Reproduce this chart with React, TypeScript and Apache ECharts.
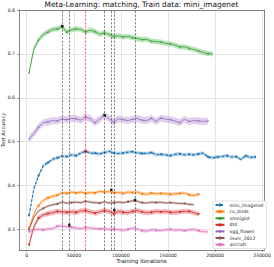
import { useEffect, useRef } from "react";
import * as echarts from "echarts";

const iterations = [
  2500, 7500, 12500, 17500, 22500, 27500, 32500, 37500, 42500, 47500,
  52500, 57500, 62500, 67500, 72500, 77500, 82500, 87500, 92500, 97500,
  102500, 107500, 112500, 117500, 122500, 127500, 132500, 137500, 142500, 147500,
  152500, 157500, 162500, 167500, 172500, 177500, 182500, 187500, 192500, 197500,
  202500, 207500, 212500, 217500, 222500, 227500, 232500, 237500, 242500,
];

const seriesNames = ["mini_imagenet", "cu_birds", "omniglot", "dtd", "vgg_flower", "ilsvrc_2012", "aircraft"];
const trainSet = "mini_imagenet";

const miniImagenet = [
  0.332, 0.392, 0.422, 0.445, 0.452, 0.46, 0.463, 0.467, 0.466, 0.47,
  0.468, 0.474, 0.478, 0.474, 0.474, 0.472, 0.475, 0.478, 0.474, 0.473,
  0.474, 0.476, 0.477, 0.474, 0.473, 0.473, 0.475, 0.47, 0.471, 0.47,
  0.468, 0.471, 0.472, 0.47, 0.471, 0.47, 0.472, 0.474, 0.465, 0.463,
  0.465, 0.466, 0.468, 0.465, 0.466, 0.459, 0.468, 0.464, 0.465,
];
const cuBirds = [
  0.303, 0.335, 0.354, 0.366, 0.372, 0.375, 0.378, 0.384, 0.382, 0.385,
  0.383, 0.385, 0.382, 0.384, 0.383, 0.387, 0.385, 0.386, 0.384, 0.384,
  0.382, 0.385, 0.384, 0.385, 0.381, 0.38, 0.383, 0.381, 0.382, 0.381,
  0.38, 0.381, 0.382, 0.383, 0.379, 0.377, 0.38,
];
const omniglot = [
  0.657, 0.711, 0.732, 0.744, 0.75, 0.756, 0.757, 0.762, 0.75, 0.755,
  0.757, 0.756, 0.75, 0.754, 0.751, 0.745, 0.748, 0.744, 0.74, 0.741,
  0.739, 0.74, 0.737, 0.735, 0.733, 0.733, 0.729, 0.728, 0.727, 0.724,
  0.723, 0.72, 0.716, 0.716, 0.713, 0.71, 0.707, 0.703, 0.701, 0.7,
];
const dtd = [
  0.265, 0.305, 0.326, 0.333, 0.336, 0.338, 0.341, 0.34, 0.339, 0.34,
  0.339, 0.342, 0.343, 0.34, 0.337, 0.34, 0.343, 0.341, 0.336, 0.341,
  0.339, 0.338, 0.341, 0.343, 0.34, 0.338, 0.339, 0.341, 0.34, 0.341,
  0.339, 0.339, 0.34, 0.341, 0.341, 0.338, 0.335,
];
const vggFlower = [
  0.506, 0.518, 0.533, 0.543, 0.545, 0.548, 0.547, 0.552, 0.55, 0.553,
  0.552, 0.549, 0.556, 0.552, 0.543, 0.551, 0.56, 0.552, 0.545, 0.552,
  0.55, 0.548, 0.551, 0.553, 0.549, 0.548, 0.553, 0.546, 0.554, 0.551,
  0.55, 0.547, 0.543, 0.551, 0.546, 0.548, 0.547, 0.546, 0.547,
];
const ilsvrc2012 = [
  0.3, 0.327, 0.342, 0.348, 0.353, 0.356, 0.358, 0.362, 0.36, 0.361,
  0.362, 0.361, 0.364, 0.362, 0.361, 0.36, 0.363, 0.36, 0.361, 0.362,
  0.361, 0.363, 0.365, 0.364, 0.361, 0.36, 0.362, 0.361, 0.362, 0.36,
  0.361, 0.36, 0.359, 0.359, 0.357, 0.356,
];
const aircraft = [
  0.295, 0.299, 0.3, 0.299, 0.301, 0.302, 0.307, 0.308, 0.306, 0.305,
  0.303, 0.302, 0.304, 0.303, 0.302, 0.301, 0.302, 0.3, 0.301, 0.299,
  0.298, 0.3, 0.303, 0.301, 0.297, 0.296, 0.299, 0.298, 0.297, 0.299,
  0.3, 0.298, 0.299, 0.297, 0.299, 0.3, 0.297, 0.295, 0.294,
];

const spreads = [0.004, 0.004, 0.006, 0.006, 0.008, 0.003, 0.004];
const bestIters = [62600, 89800, 37800, 93000, 82800, 115000, 45200];
const bestValues = [0.478, 0.39, 0.763, 0.344, 0.56, 0.367, 0.31];

const xTicks = [0, 50000, 100000, 150000, 200000, 250000];
const yTicks = [0.3, 0.4, 0.5, 0.6, 0.7, 0.8];

const seriesValues = [miniImagenet, cuBirds, omniglot, dtd, vggFlower, ilsvrc2012, aircraft];
const colors = ["#1f77b4", "#ff7f0e", "#2ca02c", "#d62728", "#9467bd", "#8c564b", "#e377c2"];
const markers = ["circle", "rect", "triangle", "circle", "diamond", "circle", "rect"];
const markerEvery = [2, 2, 2, 2, 2, 3, 3];

const FONT = "DejaVu Sans";

export default function App() {
  const ref = useRef<HTMLDivElement>(null);
  useEffect(() => {
    if (!ref.current) return;
    const chart = echarts.init(ref.current, undefined, { renderer: "svg" });
    const series: any[] = [];
    seriesNames.forEach((name, i) => {
      const vals = seriesValues[i];
      const xs = iterations.slice(0, vals.length);
      const rows = xs.map((x, j) => [x, vals[j] - spreads[i], vals[j] + spreads[i]]);
      series.push({
        name: name + "_band",
        type: "custom",
        data: rows,
        encode: { x: 0, y: [1, 2] },
        silent: true,
        z: 1,
        renderItem: (params: any, api: any) => {
          if (params.dataIndex !== 0) return null;
          const upper = rows.map((r) => api.coord([r[0], r[2]]));
          const lower = rows.map((r) => api.coord([r[0], r[1]])).reverse();
          return {
            type: "polygon",
            shape: { points: upper.concat(lower) },
            style: { fill: colors[i], opacity: 0.3 },
          };
        },
      });
    });
    seriesNames.forEach((name, i) => {
      const vals = seriesValues[i];
      const xs = iterations.slice(0, vals.length);
      series.push({
        name,
        type: "line",
        data: xs.map((x, j) => ({
          value: [x, vals[j]],
          symbol: j % markerEvery[i] === 0 ? markers[i] : "none",
        })),
        symbol: markers[i],
        symbolSize: 2,
        showAllSymbol: true,
        lineStyle: { color: colors[i], width: name === trainSet ? 1.2 : 0.8, type: name === trainSet ? [3, 1.5] : "solid" },
        itemStyle: { color: colors[i] },
        z: 3,
      });
    });
    series.push({
      name: "best",
      type: "scatter",
      data: bestIters.map((x, i) => ({
        value: [x, bestValues[i]],
        itemStyle: { color: seriesNames[i] === trainSet ? "#ff0000" : "#000000" },
      })),
      symbol: "rect",
      symbolSize: 2.6,
      z: 5,
      markLine: {
        symbol: "none",
        silent: true,
        label: { show: false },
        lineStyle: { type: [2.2, 1.5], width: 0.6, color: "#333" },
        data: bestIters.map((x, i) => ({
          xAxis: x,
          lineStyle: { color: seriesNames[i] === trainSet ? "#ff0000" : "#333333", type: [2.2, 1.5], width: 0.6 },
        })),
      },
    });

    const axisColor = "#666";
    chart.setOption({
      animation: false,
      textStyle: { fontFamily: FONT },
      grid: { left: 19, top: 10, width: 245, height: 240, outerBoundsMode: "none" },
      graphic: [
        {
          type: "text",
          x: 141.5,
          y: 1,
          style: {
            text: "Meta-Learning: matching, Train data: mini_imagenet",
            textAlign: "center",
            fontSize: 7.4,
            fontFamily: FONT,
            fill: "#111",
          },
        },
      ],
      legend: {
        data: seriesNames,
        orient: "vertical",
        left: 213,
        top: 201,
        itemWidth: 9,
        itemHeight: 4,
        itemGap: 1.6,
        padding: [1.5, 3, 1.5, 1.5],
        backgroundColor: "#fff",
        borderColor: "#ccc",
        borderWidth: 0.6,
        borderRadius: 2,
        textStyle: { fontSize: 4.6, color: "#222", fontFamily: FONT, lineHeight: 5 },
      },
      xAxis: [
        {
          type: "value",
          min: -8200,
          max: 252000,
          position: "bottom",
          name: "Training iterations",
          nameLocation: "middle",
          nameGap: 8,
          nameMoveOverlap: false,
          nameTextStyle: { fontSize: 5.6, color: "#111", fontFamily: FONT },
          axisLine: { show: true, onZero: false, lineStyle: { color: axisColor, width: 0.8 } },
          axisTick: { show: true, customValues: xTicks, length: 2, lineStyle: { color: axisColor, width: 0.6 } },
          axisLabel: { customValues: xTicks, fontSize: 4.6, color: "#222", margin: 2.5, formatter: (v: number) => String(v) },
          splitLine: { show: true, lineStyle: { color: "#dedede", width: 0.8 } },
        },
        {
          type: "value",
          min: -8200,
          max: 252000,
          position: "top",
          axisLine: { show: true, onZero: false, lineStyle: { color: axisColor, width: 0.8 } },
          axisTick: { show: false },
          axisLabel: { show: false },
          splitLine: { show: false },
        },
      ],
      yAxis: [
        {
          type: "value",
          min: 0.253,
          max: 0.8,
          position: "left",
          name: "Test Accuracy",
          nameLocation: "middle",
          nameGap: 14,
          nameMoveOverlap: false,
          nameTextStyle: { fontSize: 5, color: "#111", fontFamily: FONT },
          axisLine: { show: true, onZero: false, lineStyle: { color: axisColor, width: 0.8 } },
          axisTick: { show: true, customValues: yTicks, length: 2, lineStyle: { color: axisColor, width: 0.6 } },
          axisLabel: { customValues: yTicks, fontSize: 4.6, color: "#222", margin: 4, formatter: (v: number) => v.toFixed(1) },
          splitLine: { show: true, lineStyle: { color: "#dedede", width: 0.8 } },
        },
        {
          type: "value",
          min: 0.253,
          max: 0.8,
          position: "right",
          axisLine: { show: true, onZero: false, lineStyle: { color: axisColor, width: 0.8 } },
          axisTick: { show: false },
          axisLabel: { show: false },
          splitLine: { show: false },
        },
      ],
      series,
    });
    return () => chart.dispose();
  }, []);
  return (
    <div
      ref={ref}
      style={{ position: "fixed", left: 0, top: 0, width: 274, height: 267, background: "#fff" }}
    />
  );
}
